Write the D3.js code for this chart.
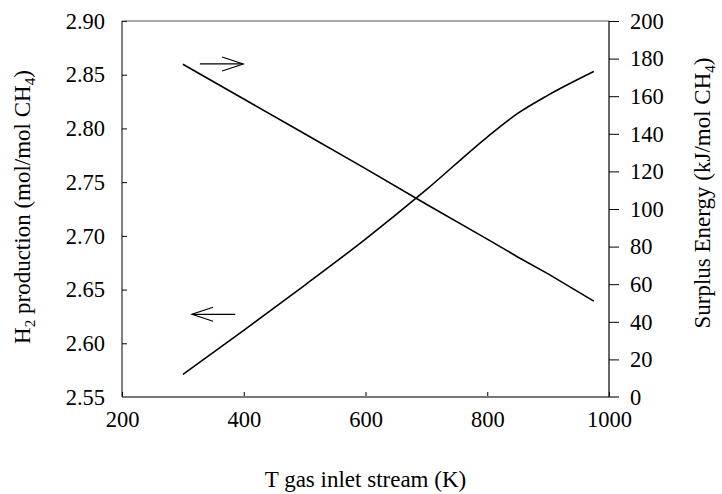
<!DOCTYPE html>
<html>
<head>
<meta charset="utf-8">
<script src="https://cdn.jsdelivr.net/npm/d3@7"></script>
<style>
  body { margin: 0; background: #fff; }
  text { font-family: "Liberation Serif", "Times New Roman", serif; }
</style>
</head>
<body>
<div id="chart"></div>
<script>
// data
var temps   = [300, 400, 500, 600, 700, 800, 850, 900, 975];
var h2Prod  = [2.571, 2.612, 2.654, 2.697, 2.743, 2.792, 2.814, 2.831, 2.853];
var surplus = [177, 158.5, 140, 121.5, 102.5, 84, 74.5, 65.5, 51];

var xTicks  = [200, 400, 600, 800, 1000];
var yLeftTicks  = [2.55, 2.60, 2.65, 2.70, 2.75, 2.80, 2.85, 2.90];
var yRightTicks = [0, 20, 40, 60, 80, 100, 120, 140, 160, 180, 200];

// arrows: [T start, T end, left-axis value]
var arrowRight = [328, 399, 2.860];
var arrowLeft  = [386, 315, 2.627];

// set the dimensions and margins of the graph
var margin = {top: 21, right: 113, bottom: 97, left: 122},
    width = 722 - margin.left - margin.right,
    height = 494 - margin.top - margin.bottom;

var svg = d3.select("#chart")
  .append("svg")
    .attr("width", 722)
    .attr("height", 494)
  .append("g")
    .attr("transform", "translate(" + margin.left + "," + margin.top + ")");

var x = d3.scaleLinear().domain([200, 1000]).range([0, width]);
var yL = d3.scaleLinear().domain([2.55, 2.90]).range([height, 0]);
var yR = d3.scaleLinear().domain([0, 200]).range([height, 0]);

// x axis
var gx = svg.append("g")
  .attr("transform", "translate(0," + height + ")")
  .call(d3.axisBottom(x).tickValues(xTicks).tickSize(-5).tickSizeOuter(0).tickPadding(14)
        .tickFormat(d3.format("d")));
gx.select(".domain").remove();

// left axis
var gl = svg.append("g")
  .call(d3.axisLeft(yL).tickValues(yLeftTicks).tickSize(-5).tickSizeOuter(0).tickPadding(17)
        .tickFormat(d3.format(".2f")));
gl.select(".domain").remove();

// right axis
var gr = svg.append("g")
  .attr("transform", "translate(" + width + ",0)")
  .call(d3.axisRight(yR).tickValues(yRightTicks).tickSize(10).tickSizeOuter(0).tickPadding(11)
        .tickFormat(d3.format("d")));
gr.select(".domain").remove();

svg.selectAll(".tick text").style("font-size", "22.5px").attr("fill", "#000");
svg.selectAll(".tick line").attr("stroke", "#000");

// frame
svg.append("line").attr("x1", 0).attr("x2", width).attr("y1", 0).attr("y2", 0)
  .attr("stroke", "#555").attr("stroke-width", 1);
svg.append("line").attr("x1", 0).attr("x2", width + 10).attr("y1", height).attr("y2", height)
  .attr("stroke", "#777").attr("stroke-width", 2);
svg.append("line").attr("x1", 0).attr("x2", 0).attr("y1", 0).attr("y2", height)
  .attr("stroke", "#000").attr("stroke-width", 1);
svg.append("line").attr("x1", width).attr("x2", width).attr("y1", 0).attr("y2", height)
  .attr("stroke", "#000").attr("stroke-width", 1.2);

// lines
var h2Data = temps.map(function(t, i) { return {t: t, v: h2Prod[i]}; });
var seData = temps.map(function(t, i) { return {t: t, v: surplus[i]}; });

svg.append("path").datum(h2Data)
  .attr("fill", "none").attr("stroke", "#000").attr("stroke-width", 1.6)
  .attr("d", d3.line().curve(d3.curveMonotoneX)
    .x(function(d) { return x(d.t); }).y(function(d) { return yL(d.v); }));

svg.append("path").datum(seData)
  .attr("fill", "none").attr("stroke", "#000").attr("stroke-width", 1.6)
  .attr("d", d3.line()
    .x(function(d) { return x(d.t); }).y(function(d) { return yR(d.v); }));

// arrows
function drawArrow(a) {
  var x1 = x(a[0]), x2 = x(a[1]), yy = yL(a[2]);
  var dir = x2 > x1 ? 1 : -1;
  var g = svg.append("g").attr("stroke", "#000").attr("stroke-width", 1.2).attr("fill", "none");
  g.append("line").attr("x1", x1).attr("x2", x2).attr("y1", yy).attr("y2", yy);
  g.append("path").attr("d", "M" + (x2 - dir * 21) + "," + (yy - 7) + "L" + x2 + "," + yy +
    "L" + (x2 - dir * 21) + "," + (yy + 7));
}
drawArrow(arrowRight);
drawArrow(arrowLeft);

// axis titles
svg.append("text")
  .attr("x", width / 2).attr("y", height + 90)
  .attr("text-anchor", "middle").style("font-size", "23px")
  .text("T gas inlet stream (K)");

var tl = svg.append("text")
  .attr("transform", "translate(" + (30 - margin.left) + "," + 186 + ") rotate(-90)")
  .attr("text-anchor", "middle").style("font-size", "23px");
tl.append("tspan").text("H");
tl.append("tspan").attr("dy", 5).style("font-size", "15px").text("2");
tl.append("tspan").attr("dy", -5).text(" production (mol/mol CH");
tl.append("tspan").attr("dy", 5).style("font-size", "15px").text("4");
tl.append("tspan").attr("dy", -5).text(")");

var tr = svg.append("text")
  .attr("transform", "translate(" + (width + 710 - 609) + "," + 172 + ") rotate(-90)")
  .attr("text-anchor", "middle").style("font-size", "23px");
tr.append("tspan").text("Surplus Energy (kJ/mol CH");
tr.append("tspan").attr("dy", 5).style("font-size", "15px").text("4");
tr.append("tspan").attr("dy", -5).text(")");
</script>
</body>
</html>
